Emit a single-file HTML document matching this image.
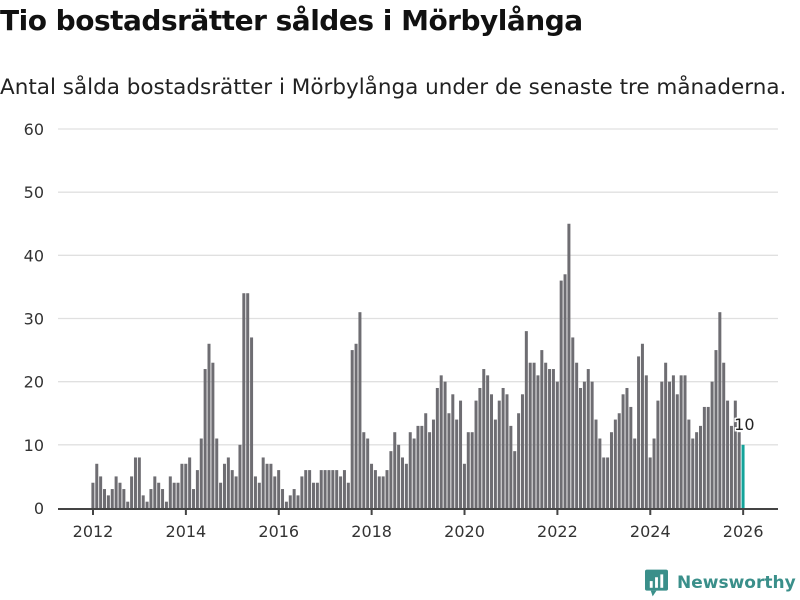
<!DOCTYPE html>
<html><head><meta charset="utf-8"><style>
body{margin:0;background:#fff;font-family:"Liberation Sans","DejaVu Sans",sans-serif;}
#wrap{position:relative;width:800px;height:600px;overflow:hidden;}
h1{position:absolute;left:0;top:4px;margin:0;font-size:28px;font-weight:bold;color:#111;font-family:"DejaVu Sans","Liberation Sans",sans-serif;letter-spacing:-0.5px;white-space:nowrap}
.sub{position:absolute;left:0;top:75px;font-size:21.5px;color:#222;font-family:"DejaVu Sans","Liberation Sans",sans-serif;white-space:nowrap}
.logo{position:absolute;left:645px;top:569px;display:flex;align-items:center;font-size:17px;font-weight:bold;color:#3a8f8a;font-family:"DejaVu Sans",sans-serif;white-space:nowrap}
</style></head><body><div id="wrap">
<h1>Tio bostadsrätter såldes i Mörbylånga</h1>
<div class="sub">Antal sålda bostadsrätter i Mörbylånga under de senaste tre månaderna.</div>
<svg id="chart" width="800" height="600" style="position:absolute;left:0;top:0"></svg>
<div class="logo"><svg width="23" height="28" viewBox="0 0 24 28"><rect x="0" y="0" width="24" height="22" rx="2" fill="#3a8f8a"/><polygon points="6,22 12,22 8,28" fill="#3a8f8a"/><rect x="5" y="12" width="3" height="7" fill="#fff"/><rect x="10.5" y="8" width="3" height="11" fill="#fff"/><rect x="16" y="5" width="3" height="14" fill="#fff"/></svg><span style="margin-left:9px">Newsworthy</span></div>
</div>
<script>
const values = [
4,7,5,3,2,3,5,4,3,1,5,8,
8,2,1,3,5,4,3,1,5,4,4,7,
7,8,3,6,11,22,26,23,11,4,7,8,
6,5,10,34,34,27,5,4,8,7,7,5,
6,3,1,2,3,2,5,6,6,4,4,6,
6,6,6,6,5,6,4,25,26,31,12,11,
7,6,5,5,6,9,12,10,8,7,12,11,
13,13,15,12,14,19,21,20,15,18,14,17,
7,12,12,17,19,22,21,18,14,17,19,18,
13,9,15,18,28,23,23,21,25,23,22,22,
20,36,37,45,27,23,19,20,22,20,14,11,
8,8,12,14,15,18,19,16,11,24,26,21,
8,11,17,20,23,20,21,18,21,21,14,11,
12,13,16,16,20,25,31,23,17,13,17,12,
10];
const startYear = 2012;
const yTicks = [0,10,20,30,40,50,60];
const xTickYears = [2012,2014,2016,2018,2020,2022,2024,2026];
const NS="http://www.w3.org/2000/svg";
const svg=document.getElementById('chart');
const x0=93, pxMonth=3.87, y0=508, pxUnit=(508-129)/60;
const xs=m=>x0+m*pxMonth;
const ys=v=>y0-v*pxUnit;
function mk(t,a){const e=document.createElementNS(NS,t);for(const k in a)e.setAttribute(k,a[k]);svg.appendChild(e);return e;}
yTicks.forEach(t=>{
  if(t>0){const g=mk('line',{x1:58,x2:778,y1:ys(t),y2:ys(t),stroke:'#e0e0e0','stroke-width':1.3});
  
  }
  const l=mk('text',{x:44,y:ys(t)+6,'text-anchor':'end','font-size':16,fill:'#333','font-family':'DejaVu Sans, sans-serif'});
  l.textContent=t;
  
  
});
values.forEach((v,i)=>{
  const last=i===values.length-1;
  const b=mk('rect',{x:xs(i)-1.6,y:ys(v),width:3,height:v*pxUnit,fill:last?'#14a39a':'#6e6d72'});
  
  
  if(last){
    const t=mk('text',{x:xs(i)-9,y:ys(v)-15,'font-size':16,fill:'#222','font-family':'DejaVu Sans, sans-serif',stroke:'#fff','stroke-width':3,'paint-order':'stroke'});
    t.textContent=v;
    
    
  }
});
const ax=mk('line',{x1:58,x2:778,y1:y0+1,y2:y0+1,stroke:'#444','stroke-width':2});


xTickYears.forEach(yr=>{
  const x=xs((yr-startYear)*12);
  const tk=mk('line',{x1:x,x2:x,y1:y0,y2:y0+7,stroke:'#444','stroke-width':2});
  
  
  const l=mk('text',{x:x,y:y0+29,'text-anchor':'middle','font-size':16,fill:'#333','font-family':'DejaVu Sans, sans-serif'});
  l.textContent=yr;
  
  
});
</script></body></html>
